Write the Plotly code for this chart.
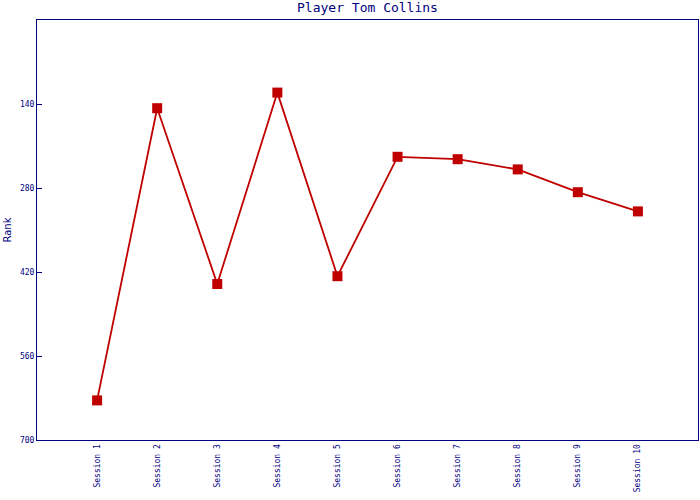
import plotly.graph_objects as go

sessions = ["Session 1", "Session 2", "Session 3", "Session 4", "Session 5",
            "Session 6", "Session 7", "Session 8", "Session 9", "Session 10"]
ranks = [634, 147, 440, 121, 427, 228, 232, 249, 287, 319]
y_ticks = [140, 280, 420, 560, 700]

navy = "#000080"
red = "#C00000"

fig = go.Figure()
fig.add_trace(go.Scatter(
    x=sessions, y=ranks, mode="lines+markers",
    line=dict(color=red, width=1.8),
    marker=dict(symbol="square", size=10, color=red),
    showlegend=False,
))

fig.update_layout(
    width=700, height=500,
    margin=dict(l=37, r=2, t=20, b=60, autoexpand=False),
    paper_bgcolor="white", plot_bgcolor="white",
    title=dict(text="Player Tom Collins", xref="paper", x=0.5, xanchor="center",
               yref="container", y=0.994, yanchor="top",
               font=dict(family="DejaVu Sans Mono", size=13, color=navy)),
    xaxis=dict(
        type="category", range=[-1, 10], automargin=False,
        showline=True, linecolor=navy, linewidth=1, mirror=True,
        showgrid=False, zeroline=False, ticks="",
        tickangle=-90,
        tickfont=dict(family="DejaVu Sans Mono", size=8, color=navy),
    ),
    yaxis=dict(
        range=[700, 0], tickvals=y_ticks, ticktext=[str(v) for v in y_ticks],
        automargin=False,
        showline=True, linecolor=navy, linewidth=1, mirror=True,
        showgrid=False, zeroline=False, ticks="inside", ticklen=5, tickcolor=navy,
        tickfont=dict(family="DejaVu Sans Mono", size=8, color=navy),
        title=dict(text="Rank", standoff=6,
                   font=dict(family="DejaVu Sans", size=10, color=navy)),
    ),
)

fig.write_html("out.html", config={"displayModeBar": False},
               post_script="document.body.style.margin='0';document.body.style.overflow='hidden';")
